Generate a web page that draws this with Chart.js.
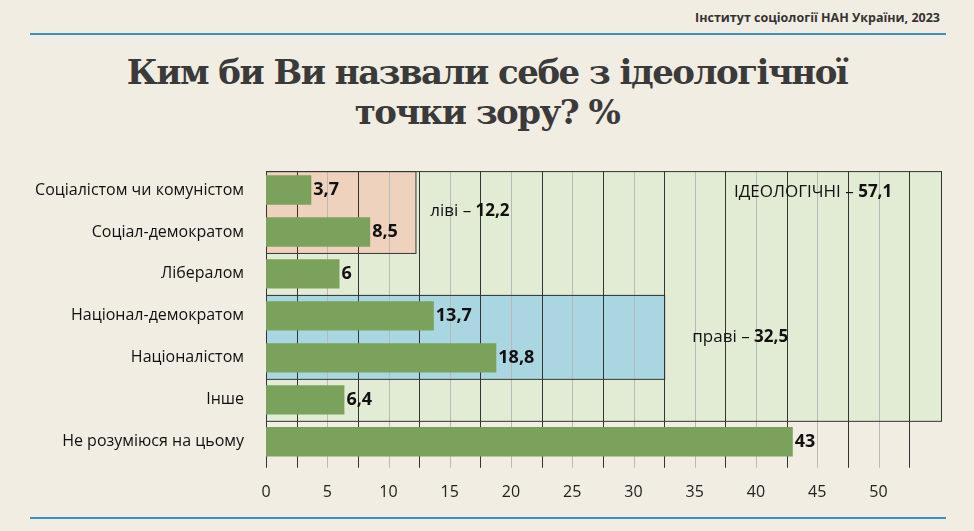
<!DOCTYPE html>
<html><head><meta charset="utf-8">
<script src="https://cdn.jsdelivr.net/npm/chart.js@4"></script>
<style>
html,body{margin:0;padding:0;background:#f2ede2;}
#wrap{position:relative;width:974px;height:531px;overflow:hidden;}
#src{position:absolute;right:34px;top:9px;font:bold 12.5px "Open Sans",sans-serif;color:#333;}
#l1{position:absolute;left:30px;right:28px;top:33px;height:2px;background:#3e8fc0;}
#l2{position:absolute;left:30px;right:28px;top:517px;height:2px;background:#3e8fc0;}
#title{position:absolute;left:0;width:974px;top:52px;text-align:center;font:bold 34px/40px "DejaVu Serif",serif;color:#3a3a3a;letter-spacing:-1.5px;}
canvas{position:absolute;left:0;top:0;}
</style></head><body>
<div id="wrap">
<div id="src">Інститут соціології НАН України, 2023</div>
<div id="l1"></div><div id="l2"></div>
<div id="title">Ким би Ви назвали себе з ідеологічної<br>точки зору? %</div>
<canvas id="c" width="974" height="531"></canvas>
</div>
<script>
const categories=["Соціалістом чи комуністом","Соціал-демократом","Лібералом","Націонал-демократом","Націоналістом","Інше","Не розуміюся на цьому"];
const values=[3.7,8.5,6,13.7,18.8,6.4,43];
const valueLabels=["3,7","8,5","6","13,7","18,8","6,4","43"];
const groupTotals={ideological:57.1,left:12.2,right:32.5};
const boxPlugin={id:'boxes',beforeDatasetsDraw(ch){
  const {ctx,scales:{x,y}}=ch;
  const top=y.getPixelForValue(-0.45);
  function box(x1,i1,i2,fill){const X0=x.getPixelForValue(0),X1=x.getPixelForValue(x1);const Y0=i1===null?top:y.getPixelForValue(i1),Y1=y.getPixelForValue(i2);
    ctx.save();ctx.fillStyle=fill;ctx.fillRect(X0,Y0,X1-X0,Y1-Y0);ctx.restore();return [X0,Y0,X1-X0,Y1-Y0];}
  ch.$boxes=[box(55.1,null,5.5,'#e2ecd5'),box(12.2,null,1.5,'#efd2be'),box(32.5,2.5,4.5,'#a9d6e0')];
  ctx.save();
  for(let v=2.5;v<=52.5;v+=2.5){const px=Math.round(x.getPixelForValue(v))+0.5;const dark=(v/2.5)%2===1;
    ctx.strokeStyle=dark?'#333':'#b9b9b9';ctx.lineWidth=1;ctx.beginPath();ctx.moveTo(px,top);ctx.lineTo(px,y.bottom+5);ctx.stroke();}
  ctx.strokeStyle='#333';
  ch.$boxes.forEach(b=>{ctx.strokeRect(b[0]+0.5,b[1]+0.5,b[2],b[3]);});
  const px0=Math.round(x.getPixelForValue(0))+0.5;ctx.beginPath();ctx.moveTo(px0,top);ctx.lineTo(px0,y.bottom+5);ctx.stroke();
  ctx.restore();
},afterDatasetsDraw(ch){
  const {ctx,scales:{x,y}}=ch;const meta=ch.getDatasetMeta(0);
  ctx.save();ctx.fillStyle='#111';ctx.font='bold 18px "Open Sans",sans-serif';ctx.textBaseline='middle';
  meta.data.forEach((b,i)=>ctx.fillText(valueLabels[i],b.x+2,b.y));
  function lbl(t,b,px,py){ctx.font='17px "Open Sans",sans-serif';const w=ctx.measureText(t).width;ctx.fillText(t,px,py);ctx.font='bold 17px "Open Sans",sans-serif';ctx.fillText(b,px+w,py);}
  lbl('ліві – ',String(groupTotals.left).replace('.',','),x.getPixelForValue(13.4),y.getPixelForValue(0.5));
  lbl('праві – ',String(groupTotals.right).replace('.',','),x.getPixelForValue(34.8),y.getPixelForValue(3.5));
  lbl('ІДЕОЛОГІЧНІ – ',String(groupTotals.ideological).replace('.',','),x.getPixelForValue(38.2),y.getPixelForValue(0.05));
  ctx.restore();
}};
new Chart(document.getElementById('c'),{type:'bar',
 data:{labels:categories,datasets:[{data:values,backgroundColor:'#7ba25c',barPercentage:0.7,categoryPercentage:1}]},
 options:{indexAxis:'y',responsive:false,animation:false,
  layout:{padding:{top:169,bottom:17,left:0,right:33}},
  plugins:{legend:{display:false},tooltip:{enabled:false}},
  scales:{
   x:{min:0,max:55.1,border:{display:false},grid:{display:false},
      afterBuildTicks(s){const t=[];for(let v=0;v<=50;v+=5)t.push({value:v});s.ticks=t;},
      ticks:{color:'#222',font:{size:16,family:'"Open Sans",sans-serif'},padding:12}},
   y:{border:{display:false},grid:{display:false},afterFit(s){s.width=266;},
      ticks:{color:'#111',font:{size:16,family:'"Open Sans",sans-serif'},padding:14}}
  }},
 plugins:[boxPlugin]});
</script>
</body></html>
